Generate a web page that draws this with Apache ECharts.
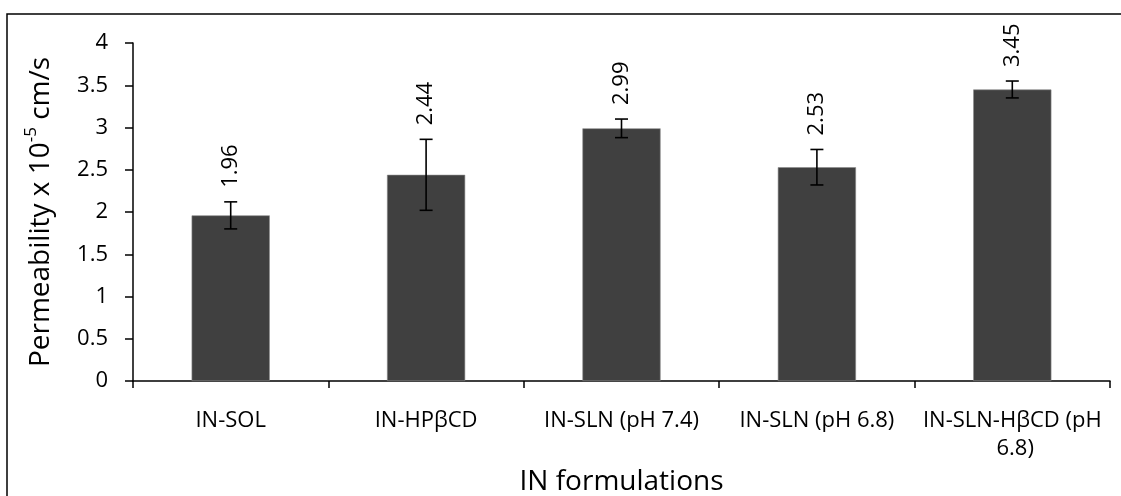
<!DOCTYPE html>
<html>
<head>
<meta charset="utf-8">
<script src="https://cdn.jsdelivr.net/npm/echarts@6/dist/echarts.min.js"></script>
<style>html,body{margin:0;padding:0;background:#fff;}#c{width:1121px;height:496px;}</style>
</head>
<body>
<div id="c"></div>
<script>
var categories = ['IN-SOL', 'IN-HPβCD', 'IN-SLN (pH 7.4)', 'IN-SLN (pH 6.8)', 'IN-SLN-HβCD (pH 6.8)'];
var values = [1.96, 2.44, 2.99, 2.53, 3.45];
var errors = [0.16, 0.42, 0.11, 0.21, 0.10];
var yTicks = [0, 0.5, 1, 1.5, 2, 2.5, 3, 3.5, 4];

var FONT = 'Open Sans';
var chart = echarts.init(document.getElementById('c'), null, {renderer: 'canvas'});

var errData = values.map(function (v, i) { return [i, v - errors[i], v + errors[i], v]; });

chart.setOption({
  animation: false,
  backgroundColor: '#fff',
  textStyle: {fontFamily: FONT, color: '#000'},
  graphic: [{
    type: 'rect', shape: {x: 7, y: 14, width: 1200, height: 600},
    style: {fill: 'none', stroke: '#000', lineWidth: 1.5}, z: 100, silent: true
  }],
  grid: {left: 133, right: 11, top: 43, bottom: 115, containLabel: false, outerBoundsMode: 'none'},
  xAxis: {
    type: 'category',
    data: categories,
    name: 'IN formulations',
    nameLocation: 'middle',
    nameGap: 87,
    nameTextStyle: {fontFamily: FONT, fontSize: 28, color: '#000'},
    axisLine: {lineStyle: {color: '#000', width: 1.5}},
    axisTick: {show: true, length: 7, lineStyle: {color: '#000', width: 1.5}},
    axisLabel: {
      interval: 0, margin: 26, fontFamily: FONT, fontSize: 22, color: '#000',
      width: 192, overflow: 'break', lineHeight: 28
    }
  },
  yAxis: {
    type: 'value',
    min: 0, max: 4, interval: 0.5,
    name: '{a|Permeability x 10}{s|-5}{a| cm/s}',
    nameLocation: 'middle',
    nameGap: 74,
    nameRotate: 90,
    nameTextStyle: {
      rich: {
        a: {fontFamily: FONT, fontSize: 28, color: '#000', lineHeight: 36},
        s: {fontFamily: FONT, fontSize: 17, color: '#000', verticalAlign: 'top', lineHeight: 36, padding: [0, 0, 12, 0]}
      }
    },
    splitLine: {show: false},
    axisLine: {show: true, lineStyle: {color: '#000', width: 1.5}},
    axisTick: {show: true, length: 8, lineStyle: {color: '#000', width: 1.5}},
    axisLabel: {
      margin: 25, fontFamily: FONT, fontSize: 22, color: '#000',
      formatter: function (v) { return yTicks.indexOf(v) >= 0 ? String(v) : ''; }
    }
  },
  series: [{
    type: 'bar',
    data: values,
    barWidth: '40%',
    itemStyle: {color: '#404040', borderColor: '#8a8a8a', borderWidth: 0.6},
    z: 2
  }, {
    type: 'custom',
    data: errData,
    z: 5,
    renderItem: function (params, api) {
      var i = api.value(0);
      var lo = api.coord([i, api.value(1)]);
      var hi = api.coord([i, api.value(2)]);
      var x = lo[0];
      var cap = 6.5;
      var st = {stroke: '#000', lineWidth: 1.6};
      return {
        type: 'group',
        children: [
          {type: 'line', shape: {x1: x, y1: hi[1], x2: x, y2: lo[1]}, style: st},
          {type: 'line', shape: {x1: x - cap, y1: hi[1], x2: x + cap, y2: hi[1]}, style: st},
          {type: 'line', shape: {x1: x - cap, y1: lo[1], x2: x + cap, y2: lo[1]}, style: st},
          {type: 'text', x: x, y: hi[1] - 14, rotation: Math.PI / 2,
            style: {text: api.value(3).toFixed(2), fontFamily: FONT, fontSize: 22, fill: '#000',
              align: 'left', verticalAlign: 'middle'}}
        ]
      };
    }
  }]
});
</script>
</body>
</html>
